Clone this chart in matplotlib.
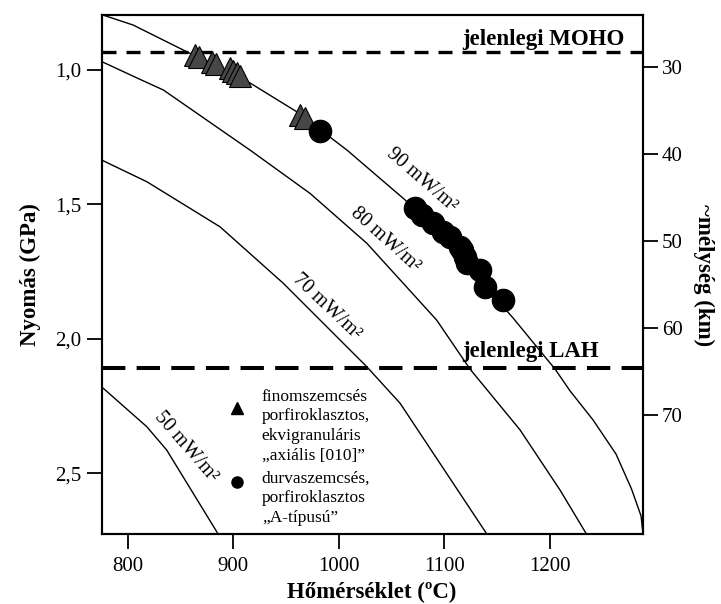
import matplotlib
matplotlib.use('Agg')
import matplotlib.pyplot as plt

plt.rcParams['font.family'] = ['Liberation Serif', 'DejaVu Serif']

# ---- data ----
# geotherms (T in C, P in GPa)
g90_T = [776.6, 805.1, 856.3, 916.0, 960.5, 1007.9, 1062.9, 1115.0, 1165.3, 1205.1, 1219.3, 1241.1, 1262.9, 1277.6, 1286.6, 1288.5]
g90_P = [0.796, 0.833, 0.933, 1.0485, 1.156, 1.298, 1.483, 1.699, 1.922, 2.112, 2.193, 2.301, 2.428, 2.558, 2.658, 2.726]
g80_T = [775.4, 811.7, 833.8, 916.0, 972.9, 1026.6, 1058.4, 1092.9, 1124.5, 1171.9, 1209.8, 1235.0]
g80_P = [0.969, 1.035, 1.0745, 1.298, 1.459, 1.644, 1.781, 1.930, 2.112, 2.338, 2.5615, 2.726]
g70_T = [775.4, 818.1, 887.5, 947.5, 1026.6, 1058.2, 1140.6]
g70_P = [1.335, 1.4154, 1.583, 1.793, 2.103, 2.239, 2.726]
g50_T = [776.9, 818.1, 837.0, 885.9]
g50_P = [2.1835, 2.326, 2.413, 2.726]

# samples
tri_T = [863.9, 867.6, 879.7, 883.7, 897.0, 900.1, 903.4, 906.5, 963.4, 968.1]
tri_P = [0.9444, 0.9537, 0.9693, 0.9779, 0.9939, 1.0028, 1.0124, 1.0225, 1.1675, 1.1797]
circ_T = [982.3, 1072.4, 1078.7, 1089.7, 1099.2, 1105.6, 1115.0, 1116.6, 1119.8, 1121.4, 1134.0, 1138.7, 1156.1]
circ_P = [1.227, 1.514, 1.539, 1.570, 1.601, 1.620, 1.657, 1.669, 1.694, 1.719, 1.744, 1.806, 1.855]

moho_P = 0.935
lah_P = 2.109

x_ticks = [800, 900, 1000, 1100, 1200]
y_ticks = [1.0, 1.5, 2.0, 2.5]
y_ticklabels = ['1,0', '1,5', '2,0', '2,5']
depth_ticks = [30, 40, 50, 60, 70]

curve_labels = ['90 mW/m²', '80 mW/m²', '70 mW/m²', '50 mW/m²']
label_T = [1079.0, 1044.0, 988.7, 855.3]
label_P = [1.409, 1.632, 1.880, 2.402]
label_rot = [-41, -42, -43.5, -49]

legend1 = 'finomszemcsés\nporfiroklasztos,\nekvigranuláris\n„axiális [010]”'
legend2 = 'durvaszemcsés,\nporfiroklasztos\n„A-típusú”'

# ---- figure ----
fig = plt.figure(figsize=(7.21, 6.04), dpi=100)
ax = fig.add_axes([0.1411, 0.1154, 0.7508, 0.8598])
ax.set_xlim(775.4, 1288.5)
ax.set_ylim(2.726, 0.7957)

for T, P in [(g90_T, g90_P), (g80_T, g80_P), (g70_T, g70_P), (g50_T, g50_P)]:
    ax.plot(T, P, color='black', lw=1.0, solid_joinstyle='miter')

ax.axhline(moho_P, color='black', lw=2.4, dashes=(4.2, 3.0))
ax.axhline(lah_P, color='black', lw=2.9, dashes=(5.8, 2.8))

ax.plot(tri_T, tri_P, linestyle='none', marker='^', ms=16, mfc='#474747', mec='black', mew=0.8)
ax.plot(circ_T, circ_P, linestyle='none', marker='o', ms=16, mfc='black', mec='black')

for s, t, p, r in zip(curve_labels, label_T, label_P, label_rot):
    ax.text(t, p, s, rotation=r, ha='center', va='center', fontsize=14.5, rotation_mode='anchor')

ax.text(0.6656, 0.907, 'jelenlegi MOHO', transform=ax.get_yaxis_transform(), ha='left', va='baseline',
        fontsize=16.5, fontweight='bold')
ax.text(0.6656, 2.066, 'jelenlegi LAH', transform=ax.get_yaxis_transform(), ha='left', va='baseline',
        fontsize=16.5, fontweight='bold')

# legend (manual)
ax.plot([0.2494], [0.2426], transform=ax.transAxes, marker='^', ms=9, color='black', linestyle='none', clip_on=False)
ax.plot([0.2494], [0.1013], transform=ax.transAxes, marker='o', ms=8, color='black', linestyle='none', clip_on=False)
ax.text(0.2956, 0.1440, legend1, transform=ax.transAxes, ha='left', va='baseline', fontsize=12.5,
        linespacing=1.3)
ax.text(0.2956, 0.0237, legend2, transform=ax.transAxes, ha='left', va='baseline', fontsize=12.5,
        linespacing=1.3)

ax.set_xticks(x_ticks)
ax.set_xticklabels([str(v) for v in x_ticks])
ax.set_yticks(y_ticks)
ax.set_yticklabels(y_ticklabels)
ax.tick_params(axis='both', direction='out', length=10.5, width=1.3, labelsize=15)
ax.tick_params(axis='x', pad=6)
ax.tick_params(axis='y', pad=4)
for sp in ax.spines.values():
    sp.set_linewidth(1.5)

ax2 = ax.twinx()
ax2.set_ylim(83.73, 23.97)
ax2.set_yticks(depth_ticks)
ax2.tick_params(axis='y', direction='out', length=10.5, width=1.3, labelsize=15, pad=3)
for sp in ax2.spines.values():
    sp.set_linewidth(1.5)

fig.text(30 / 721, 1 - 275 / 604, 'Nyomás (GPa)', rotation=90, ha='center', va='center', fontsize=16.5, fontweight='bold')
fig.text(704 / 721, 1 - 275 / 604, '~mélység (km)', rotation=270, ha='center', va='center', fontsize=16.5, fontweight='bold')
fig.text(372 / 721, 1 - 592 / 604, 'Hőmérséklet (ºC)', ha='center', va='center', fontsize=16.5, fontweight='bold')

fig.savefig('out.png', dpi=100)
